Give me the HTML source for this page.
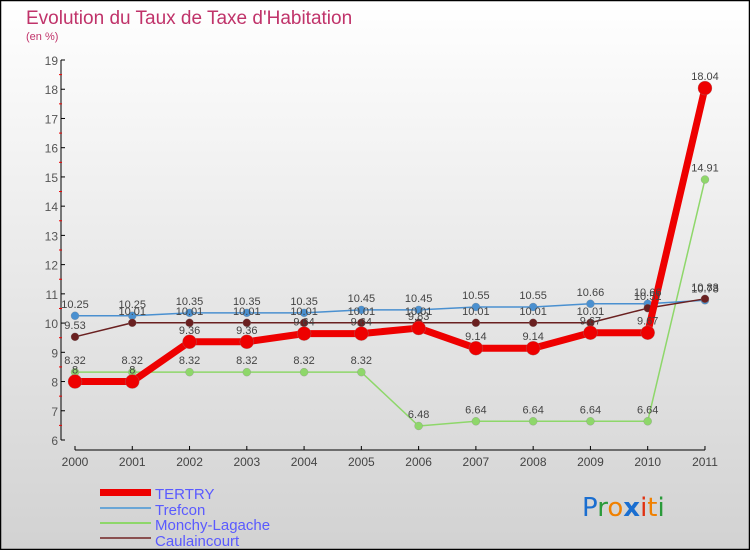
<!DOCTYPE html>
<html><head><meta charset="utf-8"><style>
html,body{margin:0;padding:0;}
body{width:750px;height:550px;overflow:hidden;font-family:"Liberation Sans",sans-serif;}
</style></head><body>
<svg id="chart" width="750" height="550" xmlns="http://www.w3.org/2000/svg">
<defs><linearGradient id="bg" x1="0" y1="0" x2="0" y2="1"><stop offset="0" stop-color="#ffffff"/><stop offset="1" stop-color="#d2d2d2"/></linearGradient></defs>
<rect x="0.5" y="0.5" width="749" height="549" fill="url(#bg)" stroke="#000" stroke-width="1.5"/>
<text x="26" y="24" font-size="19" fill="#c0336a">Evolution du Taux de Taxe d'Habitation</text>
<text x="26" y="40" font-size="11" fill="#c0336a">(en %)</text>
<g id="axes"></g><g id="series"></g><g id="labels"></g>
<g>
<rect x="100" y="489" width="51" height="7" fill="#e00"/>
<text x="155" y="499" font-size="15" fill="#5a5aff">TERTRY</text>
<rect x="100" y="507" width="51" height="2" fill="#6aa6d6"/>
<text x="155" y="515" font-size="15" fill="#5a5aff">Trefcon</text>
<rect x="100" y="522" width="51" height="2" fill="#8ed76a"/>
<text x="155" y="530" font-size="15" fill="#5a5aff">Monchy-Lagache</text>
<rect x="100" y="537" width="51" height="2" fill="#8a5050"/>
<text x="155" y="546" font-size="15" fill="#5a5aff">Caulaincourt</text>
</g>
<g font-size="26" font-family="'DejaVu Sans',sans-serif">
<text x="582" y="516"><tspan fill="#1a6ed0">P</tspan><tspan fill="#2a9a3a">r</tspan><tspan fill="#f08000">o</tspan><tspan fill="#1a6ed0" font-weight="bold">x</tspan><tspan fill="#e03010">i</tspan><tspan fill="#f08000">t</tspan><tspan fill="#2a9a3a">i</tspan></text>
</g>
</svg>
<script>
const years=["2000","2001","2002","2003","2004","2005","2006","2007","2008","2009","2010","2011"];
const tertry=[8,8,9.36,9.36,9.64,9.64,9.83,9.14,9.14,9.67,9.67,18.04];
const trefcon=[10.25,10.25,10.35,10.35,10.35,10.45,10.45,10.55,10.55,10.66,10.66,10.78];
const monchy=[8.32,8.32,8.32,8.32,8.32,8.32,6.48,6.64,6.64,6.64,6.64,14.91];
const caulaincourt=[9.53,10.01,10.01,10.01,10.01,10.01,10.01,10.01,10.01,10.01,10.51,10.83];
const yTicks=[6,7,8,9,10,11,12,13,14,15,16,17,18,19];
const NS="http://www.w3.org/2000/svg";
const x=i=>75+i*57.27;
const y=v=>440-(v-6)*29.23;
function mk(tag,attrs,parent){const e=document.createElementNS(NS,tag);for(const k in attrs)e.setAttribute(k,attrs[k]);document.getElementById(parent).appendChild(e);return e;}
const fmt=v=>String(v);
// axes
let e=mk('line',{x1:61,y1:60,x2:61,y2:440,stroke:'#000','stroke-width':1},'axes');


yTicks.forEach(t=>{
  mk('line',{x1:61,y1:y(t),x2:65,y2:y(t),stroke:'#000'},'axes');
  if(t<19) mk('line',{x1:59,y1:y(t+0.5),x2:62,y2:y(t+0.5),stroke:'#e00'},'axes');
  const tx=mk('text',{x:58,y:y(t)+5,'font-size':12,'text-anchor':'end',fill:'#555'},'axes');
  tx.textContent=t;
  
  
});
e=mk('line',{x1:75,y1:450,x2:705,y2:450,stroke:'#000'},'axes');


years.forEach((yr,i)=>{
  mk('line',{x1:x(i),y1:450,x2:x(i),y2:446,stroke:'#000'},'axes');
  const tx=mk('text',{x:x(i),y:466,'font-size':12,'text-anchor':'middle',fill:'#444'},'axes');
  tx.textContent=yr;
  
  
});
function series(data,name,color,w,r,lbl){
  const p=mk('polyline',{points:data.map((v,i)=>x(i)+','+y(v)).join(' '),fill:'none',stroke:color,'stroke-width':w,'stroke-linejoin':'round'},'series');
  
  
  data.forEach((v,i)=>{
    const c=mk('circle',{cx:x(i),cy:y(v),r:r,fill:color,stroke:'#888','stroke-width':0.3},'series');
    
    
    const t=mk('text',{x:x(i),y:y(v)-8,'font-size':11,'text-anchor':'middle',fill:'#444'},'labels');
    t.textContent=fmt(v);
    
    
  });
}
series(monchy,'monchy-lagache','#8ed76a',1.5,4);
series(trefcon,'trefcon','#4a90d0',1.5,4);
series(caulaincourt,'caulaincourt','#6a2020',1.5,4);
series(tertry,'tertry','#ee0000',7,7);
</script>
</body></html>
